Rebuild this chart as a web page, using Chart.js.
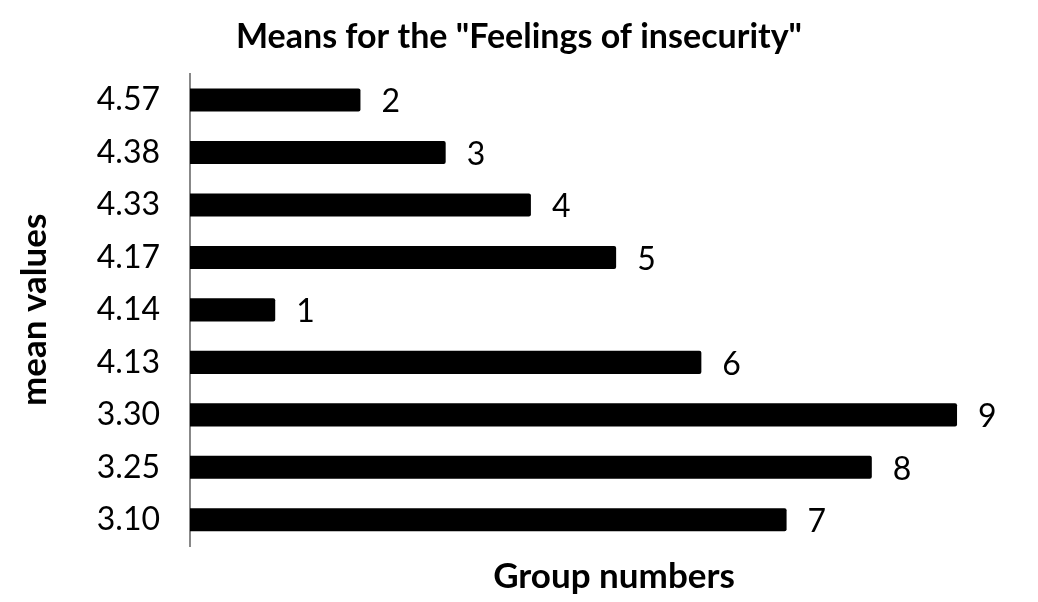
<!DOCTYPE html>
<html>
<head>
<meta charset="utf-8">
<script src="https://cdn.jsdelivr.net/npm/chart.js@4"></script>
<style>
  html, body { margin: 0; padding: 0; background: #fff; }
  #wrap { width: 1038px; height: 602px; }
</style>
</head>
<body>
<div id="wrap"><canvas id="c" width="1038" height="602"></canvas></div>
<script>
const categories = ["4.57", "4.38", "4.33", "4.17", "4.14", "4.13", "3.30", "3.25", "3.10"];
const groupNumbers = [2, 3, 4, 5, 1, 6, 9, 8, 7];
const chartTitle = 'Means for the "Feelings of insecurity"';
const xTitle = "Group numbers";
const yTitle = "mean values";

const FONT = "Lato, 'Open Sans', sans-serif";

const valueLabels = {
  id: 'valueLabels',
  afterDatasetsDraw(chart) {
    const ctx = chart.ctx;
    const meta = chart.getDatasetMeta(0);
    ctx.save();
    ctx.fillStyle = '#000';
    ctx.font = "32px " + FONT;
    ctx.textAlign = 'left';
    ctx.textBaseline = 'middle';
    meta.data.forEach((bar, i) => {
      ctx.fillText(String(chart.data.datasets[0].data[i]), bar.x + 21, bar.y + 2);
    });
    ctx.restore();
  }
};

new Chart(document.getElementById('c'), {
  type: 'bar',
  data: {
    labels: categories,
    datasets: [{
      data: groupNumbers,
      backgroundColor: '#000',
      borderWidth: 0,
      borderRadius: 2,
      barPercentage: 0.88,
      categoryPercentage: 0.5
    }]
  },
  options: {
    indexAxis: 'y',
    responsive: false,
    animation: false,
    layout: { padding: { left: 0, right: 0, top: 0, bottom: 0 } },
    plugins: {
      legend: { display: false },
      tooltip: { enabled: false },
      title: {
        display: true,
        text: chartTitle,
        color: '#000',
        font: { family: FONT, size: 34, weight: 'bold' },
        padding: { top: 17, bottom: 16 }
      }
    },
    scales: {
      x: {
        min: 0,
        max: 9.95,
        grid: { display: false, drawTicks: false },
        border: { display: false },
        ticks: { display: false },
        title: {
          display: true,
          text: xTitle,
          color: '#000',
          font: { family: FONT, size: 35, weight: 'bold' },
          padding: { top: 0, bottom: 4 }
        },
        afterFit(scale) { scale.height = 56; }
      },
      y: {
        grid: { display: false, drawTicks: false },
        border: { display: true, color: '#888', width: 2 },
        ticks: {
          color: '#000',
          padding: 30,
          font: { family: FONT, size: 32 }
        },
        title: {
          display: true,
          text: yTitle,
          color: '#000',
          font: { family: FONT, size: 35, weight: 'bold' },
          padding: { top: 14, bottom: 0 }
        },
        afterFit(scale) { scale.width = 190; }
      }
    }
  },
  plugins: [valueLabels]
});
</script>
</body>
</html>
